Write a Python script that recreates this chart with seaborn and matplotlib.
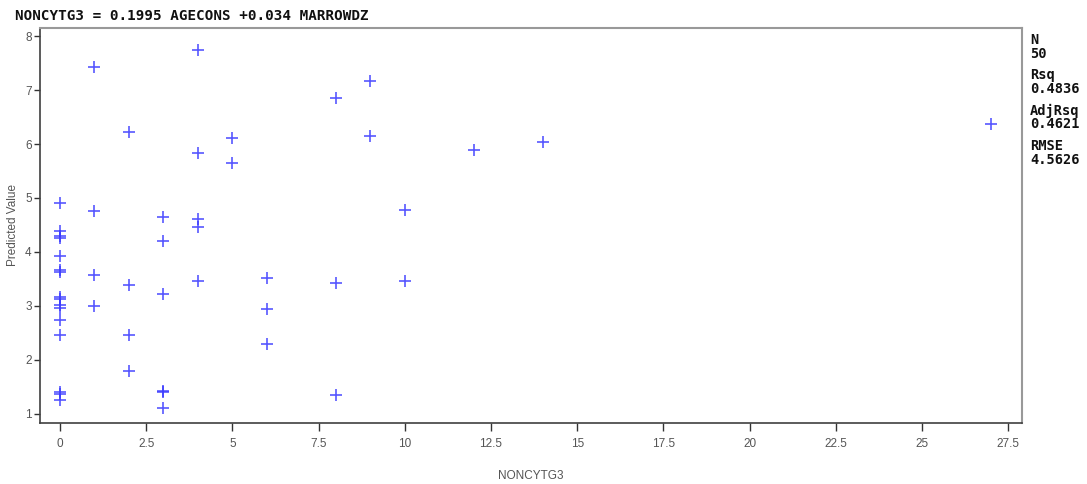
import matplotlib
matplotlib.use("Agg")
import matplotlib.pyplot as plt
import seaborn as sns
import pandas as pd
from matplotlib.ticker import FormatStrFormatter, MultipleLocator

# Data
noncytg3 = [0]*16 + [1]*4 + [2]*4 + [3]*6 + [4]*5 + [5]*2 + [6]*3 + [8]*3 + [9]*2 + [10]*2 + [12, 14, 27]
predicted = [
    4.90, 4.39, 4.30, 4.25, 3.93, 3.66, 3.63, 3.16, 3.12, 3.02, 2.96, 2.74, 2.46, 1.40, 1.36, 1.25,
    7.43, 4.76, 3.57, 3.00,
    6.23, 3.39, 2.46, 1.80,
    4.65, 4.20, 3.22, 1.42, 1.40, 1.11,
    7.74, 5.83, 4.61, 4.46, 3.47,
    6.12, 5.64,
    3.51, 2.94, 2.30,
    6.85, 3.42, 1.35,
    7.17, 6.15,
    4.78, 3.47,
    5.89, 6.04, 6.38,
]
title_text = "NONCYTG3 = 0.1995 AGECONS +0.034 MARROWDZ"
stats_labels = ["N", "Rsq", "AdjRsq", "RMSE"]
stats_values = ["50", "0.4836", "0.4621", "4.5626"]

df = pd.DataFrame({"NONCYTG3": noncytg3, "Predicted Value": predicted})

sns.set_theme(style="white")
plt.rcParams["font.family"] = ["Liberation Sans", "DejaVu Sans"]

fig = plt.figure(figsize=(10.87, 4.84), dpi=100)
ax = fig.add_axes([40/1087, 1 - 423/484, (1022 - 40)/1087, (423 - 28)/484])

sns.scatterplot(data=df, x="NONCYTG3", y="Predicted Value", marker="+", s=70,
                color="#3a3aff", linewidth=1.2, alpha=0.85, ax=ax)

ax.set_xlim(-0.58, 27.9)
ax.set_ylim(0.83, 8.15)
ax.xaxis.set_major_locator(MultipleLocator(2.5))
ax.yaxis.set_major_locator(MultipleLocator(1))
ax.xaxis.set_major_formatter(FormatStrFormatter("%g"))
ax.yaxis.set_major_formatter(FormatStrFormatter("%g"))

ax.tick_params(axis="both", direction="out", length=4, width=1, colors="#333333",
               labelsize=8.5, labelcolor="#555555", bottom=True, left=True)
ax.tick_params(axis="x", length=6, pad=5)
ax.tick_params(axis="y", pad=2)
ax.set_xlabel("NONCYTG3", fontsize=8.5, color="#555555", labelpad=14)
ax.set_ylabel("Predicted Value", fontsize=8.5, color="#555555", labelpad=4)

for side in ["left", "bottom"]:
    ax.spines[side].set_color("#404040")
    ax.spines[side].set_linewidth(1.2)
for side in ["top", "right"]:
    ax.spines[side].set_color("#999999")
    ax.spines[side].set_linewidth(1.5)

fig.text(15/1087, 1 - 16/484, title_text, fontsize=10.3, fontweight="bold",
         family=["DejaVu Sans Mono"], color="#111111", va="center", ha="left")

y0 = 40
for i, (lab, val) in enumerate(zip(stats_labels, stats_values)):
    yy = y0 + i * 35.5
    fig.text(1030/1087, 1 - yy/484, lab, fontsize=9.8, fontweight="bold",
             family=["DejaVu Sans Mono"], color="#111111", va="center", ha="left")
    fig.text(1030/1087, 1 - (yy + 13.5)/484, val, fontsize=9.8, fontweight="bold",
             family=["DejaVu Sans Mono"], color="#111111", va="center", ha="left")

fig.savefig("out.png", dpi=100, facecolor="white")
